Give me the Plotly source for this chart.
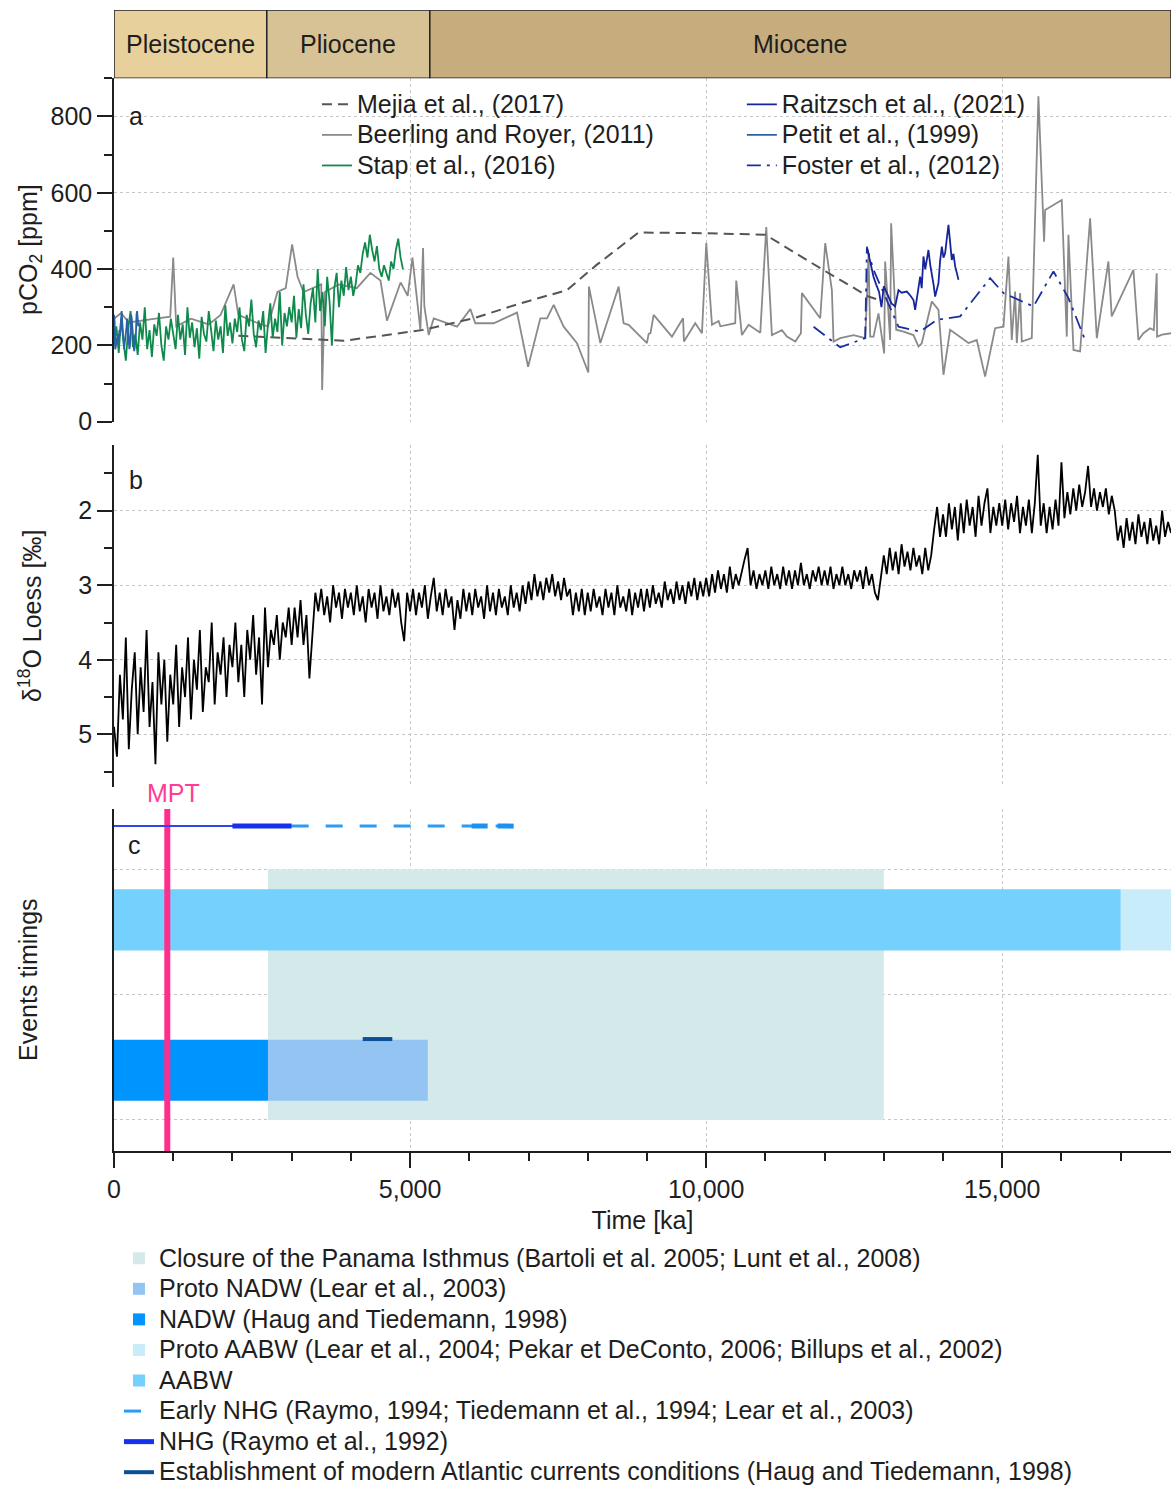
import plotly.graph_objects as go

# ---------------- data ----------------
EPOCH_NAMES = ["Pleistocene", "Pliocene", "Miocene"]
EPOCH_START = [0, 2580, 5333]
EPOCH_END = [2580, 5333, 17850]

# Petit et al. (1999) - Vostok CO2, regular 10 ka sampling
PETIT_T0, PETIT_DT = 0, 10
PETIT_CO2 = [280, 265, 190, 195, 210, 220, 205, 230, 210, 240,
             225, 245, 270, 290, 260, 230, 195, 190, 205, 215,
             230, 245, 270, 250, 230, 210, 190, 200, 245, 280,
             270, 240, 215, 200, 185, 195, 210, 230, 280, 290,
             270, 250]

# Stap et al. (2016), regular 40 ka sampling
STAP_T0, STAP_DT = 0, 40
STAP_CO2 = [200, 250, 180, 270, 210, 160, 245, 290, 195, 230, 175, 260, 215, 300, 190, 240, 170, 255, 225, 285, 200, 160, 250, 215, 270,
            230, 190, 280, 215, 255, 175, 300, 220, 260, 195, 245, 165, 275, 230, 210, 290, 240, 185, 265, 215, 250, 180, 305, 225, 260,
            205, 270, 235, 300, 215, 185, 280, 250, 320, 230, 195, 265, 240, 290, 180, 255, 310, 220, 270, 235, 340, 200, 285, 250, 300,
            260, 330, 220, 295, 245, 360, 280, 230, 310, 350, 260, 400, 290, 340, 250, 380, 315, 200, 350, 390, 300, 370, 330, 405, 345,
            380, 330, 360, 410, 390, 440, 470, 430, 490, 450, 420, 460, 400, 380, 410, 390, 370, 420, 400, 450, 480, 430, 400]

# Beerling and Royer (2011)
BR_AGE = [0, 120, 250, 450, 700, 950, 1000, 1050, 1300, 1600,
          1800, 2020, 2100, 2400, 2600, 2760, 2900, 3008, 3100, 3200,
          3500, 3515, 3560, 3800, 4100, 4330, 4500, 4610, 4840, 4960,
          5040, 5174, 5219, 5241, 5315, 5399, 5793, 6018, 6102, 6412,
          6806, 6993, 7200, 7312, 7425, 7594, 7819, 8010, 8020, 8213,
          8522, 8606, 8691, 9000, 9028, 9060, 9113, 9422, 9610, 9625,
          9816, 9929, 10002, 10098, 10210, 10240, 10491, 10508, 10604, 10717,
          10914, 11015, 11110, 11279, 11364, 11505, 11600, 11617, 11926, 12011,
          12123, 12151, 12264, 12489, 12686, 12714, 12742, 12770, 12826, 12910,
          13006, 13023, 13107, 13124, 13209, 13333, 13501, 13586, 13640, 13811,
          13923, 14008, 14120, 14430, 14570, 14711, 14880, 15021, 15105, 15161,
          15217, 15246, 15302, 15330, 15499, 15611, 15707, 15724, 16005, 16090,
          16118, 16203, 16315, 16484, 16597, 16793, 16849, 17215, 17300, 17384,
          17496, 17560, 17609, 17615, 17700, 17862]
BR_CO2 = [270, 285, 260, 265, 270, 275, 430, 250, 270, 255,
          280, 360, 280, 260, 250, 340, 350, 465, 380, 340,
          360, 83, 340, 360, 350, 390, 370, 265, 365, 330,
          430, 240, 455, 302, 227, 271, 249, 295, 258, 258,
          286, 144, 271, 271, 306, 249, 206, 129, 354, 206,
          354, 258, 254, 206, 230, 232, 280, 223, 271, 210,
          258, 232, 468, 254, 264, 250, 258, 370, 227, 254,
          233, 510, 227, 240, 223, 210, 232, 337, 271, 468,
          345, 210, 219, 227, 219, 319, 442, 223, 223, 284,
          179, 420, 214, 520, 241, 236, 227, 197, 205, 315,
          293, 123, 241, 206, 214, 118, 245, 249, 433, 214,
          341, 206, 337, 210, 219, 853, 472, 555, 581, 223,
          490, 188, 184, 533, 219, 420, 276, 398, 214, 232,
          245, 240, 389, 223, 228, 232]

# Mejia et al. (2017)
MEJIA_AGE = [2100, 2900, 3880, 4500, 5200, 6070, 6860, 7650, 8150, 8860, 10010, 11000, 11930, 12740, 12900]
MEJIA_CO2 = [225, 219, 212, 225, 240, 271, 310, 345, 411, 496, 494, 490, 402, 328, 320]

# Raitzsch et al. (2021)
RAITZSCH_AGE = [12714, 12740, 12770, 12800, 12826, 12870, 12920, 12960, 13000, 13079,
                13130, 13192, 13248, 13300, 13389, 13450, 13501, 13529, 13560, 13590,
                13614, 13640, 13670, 13700, 13730, 13754, 13785, 13811, 13840, 13867,
                13895, 13923, 13950, 13980, 14008, 14036, 14064, 14092, 14120, 14148,
                14176, 14205, 14233, 14261]
RAITZSCH_CO2 = [459, 440, 424, 400, 380, 360, 340, 300, 355, 328,
                310, 302, 345, 338, 341, 330, 319, 293, 330, 360,
                380, 350, 433, 400, 430, 450, 410, 389, 360, 328,
                345, 363, 420, 459, 430, 442, 480, 516, 470, 424,
                440, 407, 390, 372]

# Foster et al. (2012)
FOSTER_AGE = [11814, 12264, 12686, 12714, 12826, 13051, 13248, 13614, 13895, 14289, 14795, 15021, 15527, 15865, 16118, 16399]
FOSTER_CO2 = [249, 195, 219, 455, 398, 319, 249, 236, 267, 276, 376, 337, 302, 394, 324, 214]

# delta18O loess, regular 50 ka sampling
LOESS_T0, LOESS_DT = 0, 50
LOESS_D18O = [
    4.9, 5.3, 4.2, 4.8, 3.7, 5.2, 4.4, 3.9, 5.0, 4.1, 4.7, 3.6, 4.9, 4.3, 5.4, 3.9, 4.6, 4.0, 5.1, 4.2,
    4.6, 3.8, 4.9, 4.1, 4.5, 3.7, 4.8, 4.0, 4.4, 3.6, 4.7, 4.1, 4.3, 3.5, 4.6, 3.9, 4.2, 3.7, 4.5, 3.8,
    4.1, 3.5, 4.3, 3.8, 4.5, 3.6, 4.0, 3.4, 4.2, 3.7, 4.6, 3.3, 4.1, 3.6, 3.8, 3.4, 4.0, 3.5, 3.7, 3.3,
    3.8, 3.3, 3.7, 3.2, 3.8, 3.4, 4.25, 3.6, 3.1, 3.35, 3.05, 3.4, 3.15, 3.5, 3.0, 3.3, 3.1, 3.45, 3.05, 3.3,
    3.1, 3.4, 3.0, 3.35, 3.15, 3.5, 3.05, 3.3, 3.1, 3.45, 3.0, 3.35, 3.15, 3.4, 3.05, 3.3, 3.1, 3.5, 3.75, 3.1,
    3.35, 3.05, 3.4, 3.1, 3.3, 3.0, 3.45, 3.15, 2.9, 3.35, 3.1, 3.4, 3.05, 3.3, 3.15, 3.6, 3.2, 3.45, 3.05, 3.35,
    3.1, 3.4, 3.05, 3.3, 3.15, 3.45, 3.0, 3.35, 3.1, 3.4, 3.05, 3.3, 3.15, 3.4, 3.0, 3.3, 3.1, 3.35, 3.0, 3.25,
    2.95, 3.2, 2.85, 3.15, 2.95, 3.2, 2.9, 3.1, 2.85, 3.15, 2.95, 3.2, 2.9, 3.15, 3.05, 3.4, 3.1, 3.35, 3.05, 3.4,
    3.1, 3.35, 3.05, 3.3, 3.15, 3.4, 3.05, 3.3, 3.1, 3.4, 3.0, 3.3, 3.15, 3.35, 3.05, 3.4, 3.1, 3.3, 3.05, 3.35,
    3.05, 3.3, 3.0, 3.25, 3.1, 3.3, 2.95, 3.2, 3.05, 3.25, 2.95, 3.2, 3.0, 3.25, 2.95, 3.15, 2.9, 3.2, 2.95, 3.15,
    2.9, 3.15, 2.85, 3.1, 2.8, 3.05, 2.85, 3.1, 2.75, 3.05, 2.85, 3.0, 2.8, 2.65, 2.5, 3.0, 2.8, 3.05, 2.85, 3.0,
    2.8, 3.05, 2.75, 3.0, 2.85, 3.05, 2.75, 3.0, 2.8, 3.05, 2.8, 3.0, 2.7, 3.0, 2.85, 3.05, 2.8, 2.95, 2.75, 3.0,
    2.8, 3.0, 2.75, 3.05, 2.85, 3.0, 2.75, 3.0, 2.85, 3.05, 2.8, 2.95, 2.8, 3.05, 2.75, 3.0, 2.85, 3.1, 3.2, 2.9,
    2.6, 2.85, 2.5, 2.8, 2.55, 2.85, 2.45, 2.75, 2.55, 2.8, 2.5, 2.75, 2.6, 2.85, 2.5, 2.8, 2.6, 2.25, 1.95, 2.35,
    2.05, 2.35, 1.9, 2.25, 1.95, 2.4, 1.9, 2.3, 1.85, 2.2, 1.95, 2.35, 1.8, 2.2, 1.9, 1.7, 2.3, 1.95, 2.2, 1.9,
    2.2, 1.85, 2.25, 1.9, 2.15, 1.8, 2.3, 1.95, 2.2, 1.85, 2.3, 1.9, 1.25, 2.2, 1.9, 2.3, 1.95, 2.25, 1.85, 2.2,
    1.35, 2.1, 1.75, 2.05, 1.7, 2.0, 1.65, 1.95, 1.75, 1.4, 1.95, 1.7, 2.0, 1.75, 1.95, 1.7, 2.05, 1.8, 2.0, 2.4,
    2.2, 2.5, 2.1, 2.4, 2.15, 2.45, 2.05, 2.35, 2.15, 2.45, 2.1, 2.4, 2.2, 2.45, 2.0, 2.35, 2.15, 2.3]

# Panel c event timings (start ka, end ka)
PANAMA = (2600, 13000)
PROTO_NADW = (2600, 5300)
NADW = (0, 2600)
PROTO_AABW = (17000, 23000)
AABW = (0, 17000)
EARLY_NHG = (3000, 7000)
EARLY_NHG_STRONG = (6040, 6780)
NHG_TRACE = (0, 3000)
NHG = (2000, 3000)
ATLANTIC_MODERN = (4200, 4700)
MPT_AGE = 900

# ---------------- style / layout constants ----------------
FONT = "Liberation Sans, Arial, sans-serif"
TXT = "#1e1e1e"
BIG = 25
X_RANGE = [0, 17850]
EPOCH_COLORS = ["#e8d09c", "#d7c295", "#c7ad7e"]

# panel c rows (y positions in panel-c units)
ROW_NHG = 3.344
ROW_AABW = 2.596
ROW_PANAMA = 2.0
ROW_NADW = 1.396
ROW_ATL = 1.645
BAR_H = 0.488
PANAMA_H = 2.0
YC_RANGE = [0.752, 3.48]


def L(s):
    return f'<span style="font-size:{BIG}px">{s}</span>'


def reg(t0, dt, vals):
    return [t0 + i * dt for i in range(len(vals))]


fig = go.Figure()

# ---- epoch band ----
fig.add_trace(go.Bar(
    orientation="h", y=[0.5] * 3, base=EPOCH_START,
    x=[e - s for s, e in zip(EPOCH_START, EPOCH_END)], width=1,
    marker=dict(color=EPOCH_COLORS, line=dict(color="#222", width=1.5)),
    xaxis="x4", yaxis="y4", showlegend=False, hoverinfo="skip"))

# ---- panel a ----
fig.add_trace(go.Scatter(x=BR_AGE, y=BR_CO2, mode="lines", name=L("Beerling and Royer, (2011)"),
                         line=dict(color="#8a8a8a", width=1.8), legend="legend", legendrank=2,
                         xaxis="x", yaxis="y"))
fig.add_trace(go.Scatter(x=MEJIA_AGE, y=MEJIA_CO2, mode="lines", name=L("Mejia et al., (2017)"),
                         line=dict(color="#555555", width=2, dash="10px,6px"), legend="legend", legendrank=1,
                         xaxis="x", yaxis="y"))
fig.add_trace(go.Scatter(x=reg(STAP_T0, STAP_DT, STAP_CO2), y=STAP_CO2, mode="lines", name=L("Stap et al., (2016)"),
                         line=dict(color="#0f8a4c", width=1.8), legend="legend", legendrank=3,
                         xaxis="x", yaxis="y"))
fig.add_trace(go.Scatter(x=reg(PETIT_T0, PETIT_DT, PETIT_CO2), y=PETIT_CO2, mode="lines", name=L("Petit et al., (1999)"),
                         line=dict(color="#2a62a6", width=1.8), legend="legend2", legendrank=2,
                         xaxis="x", yaxis="y"))
fig.add_trace(go.Scatter(x=FOSTER_AGE, y=FOSTER_CO2, mode="lines", name=L("Foster et al., (2012)"),
                         line=dict(color="#1a2f9e", width=1.8, dash="14px,6px,3px,6px"), legend="legend2", legendrank=3,
                         xaxis="x", yaxis="y"))
fig.add_trace(go.Scatter(x=RAITZSCH_AGE, y=RAITZSCH_CO2, mode="lines", name=L("Raitzsch et al., (2021)"),
                         line=dict(color="#17259a", width=1.8), legend="legend2", legendrank=1,
                         xaxis="x", yaxis="y"))

# ---- panel b ----
fig.add_trace(go.Scatter(x=reg(LOESS_T0, LOESS_DT, LOESS_D18O), y=LOESS_D18O, mode="lines",
                         line=dict(color="#000000", width=1.8), showlegend=False,
                         xaxis="x2", yaxis="y2"))

# ---- panel c ----
def hbar(rng, row, h, color, name, rank, show=True):
    return go.Bar(orientation="h", y=[row], base=[rng[0]], x=[rng[1] - rng[0]], width=[h],
                  marker=dict(color=color, line=dict(width=0)), name=L(name), legend="legend3",
                  legendrank=rank, showlegend=show, xaxis="x3", yaxis="y3", hoverinfo="skip")


fig.add_trace(hbar(PANAMA, ROW_PANAMA, PANAMA_H, "#d4e9ea",
                   "Closure of the Panama Isthmus (Bartoli et al. 2005; Lunt et al., 2008)", 1))
fig.add_trace(hbar(PROTO_NADW, ROW_NADW, BAR_H, "#94c5f2", "Proto NADW (Lear et al., 2003)", 2))
fig.add_trace(hbar(NADW, ROW_NADW, BAR_H, "#0094fe", "NADW (Haug and Tiedemann, 1998)", 3))
fig.add_trace(go.Scatter(x=list(ATLANTIC_MODERN), y=[ROW_ATL, ROW_ATL], mode="lines",
                         line=dict(color="#0b4f97", width=4),
                         name=L("Establishment of modern Atlantic currents conditions (Haug and Tiedemann, 1998)"),
                         legend="legend3", legendrank=8, xaxis="x3", yaxis="y3"))
fig.add_trace(go.Scatter(x=[MPT_AGE, MPT_AGE], y=YC_RANGE, mode="lines",
                         line=dict(color="#ff2e8c", width=6), showlegend=False, xaxis="x3", yaxis="y3"))
fig.add_trace(hbar(PROTO_AABW, ROW_AABW, BAR_H, "#c9ecfb",
                   "Proto AABW (Lear et al., 2004; Pekar et DeConto, 2006; Billups et al., 2002)", 4))
fig.add_trace(hbar(AABW, ROW_AABW, BAR_H, "#74d0fc", "AABW", 5))
fig.add_trace(go.Scatter(x=list(NHG_TRACE), y=[ROW_NHG, ROW_NHG], mode="lines",
                         line=dict(color="#3043f0", width=2), showlegend=False, xaxis="x3", yaxis="y3"))
fig.add_trace(go.Scatter(x=list(NHG), y=[ROW_NHG, ROW_NHG], mode="lines",
                         line=dict(color="#1432ee", width=5), name=L("NHG (Raymo et al., 1992)"),
                         legend="legend3", legendrank=7, xaxis="x3", yaxis="y3"))
fig.add_trace(go.Scatter(x=list(EARLY_NHG), y=[ROW_NHG, ROW_NHG], mode="lines",
                         line=dict(color="#2a9cf4", width=3, dash="17px,17px"),
                         name=L("Early NHG (Raymo, 1994; Tiedemann et al., 1994; Lear et al., 2003)"),
                         legend="legend3", legendrank=6, xaxis="x3", yaxis="y3"))
fig.add_trace(go.Scatter(x=list(EARLY_NHG_STRONG), y=[ROW_NHG, ROW_NHG], mode="lines",
                         line=dict(color="#1b92f2", width=5, dash="16px,10px"), showlegend=False,
                         xaxis="x3", yaxis="y3"))

# ---------------- layout ----------------
GRID = dict(showgrid=True, gridcolor="#c6c6c6", griddash="dot", gridwidth=1)
TICKF = dict(size=BIG, family=FONT, color=TXT)
xgrid = dict(tick0=0, dtick=5000, zeroline=False, **GRID)
yline = dict(showline=True, linecolor=TXT, linewidth=1.5, zeroline=False)

LEG = dict(bgcolor="rgba(0,0,0,0)", font=dict(size=21.2, family=FONT, color=TXT),
           tracegroupgap=0, xanchor="left", yanchor="top", traceorder="normal", itemclick=False)

fig.update_layout(
    width=1171, height=1486,
    margin=dict(l=114, r=0, t=10, b=335, autoexpand=False),
    paper_bgcolor="white", plot_bgcolor="white",
    font=dict(family=FONT, color=TXT, size=BIG),
    barmode="overlay", showlegend=True,
    xaxis=dict(anchor="y", matches="x3", showticklabels=False, ticks="", **xgrid),
    xaxis2=dict(anchor="y2", matches="x3", showticklabels=False, ticks="", **xgrid),
    xaxis3=dict(anchor="y3", range=X_RANGE, showticklabels=True, tickformat=",d",
                ticks="outside", ticklen=15, tickwidth=1.5, tickcolor=TXT, tickfont=TICKF,
                minor=dict(ticks="outside", dtick=1000, ticklen=8, tickwidth=1.5, tickcolor=TXT),
                showline=True, linecolor=TXT, linewidth=1.5,
                title=dict(text="Time [ka]", font=TICKF, standoff=10), **xgrid),
    xaxis4=dict(anchor="y4", matches="x3", visible=False),
    yaxis=dict(anchor="x", domain=[0.6392, 0.9401], range=[0, 900], tick0=0, dtick=200,
               ticks="outside", ticklen=15, tickwidth=1.5, tickcolor=TXT, tickfont=TICKF,
               minor=dict(ticks="outside", dtick=100, ticklen=8, tickwidth=1.5, tickcolor=TXT),
               **yline, **GRID),
    yaxis2=dict(anchor="x2", domain=[0.3190, 0.6188], range=[5.707, 1.118], tick0=0, dtick=1,
                ticks="outside", ticklen=15, tickwidth=1.5, tickcolor=TXT, tickfont=TICKF,
                minor=dict(ticks="outside", dtick=0.5, ticklen=8, tickwidth=1.5, tickcolor=TXT),
                **yline, **GRID),
    yaxis3=dict(anchor="x3", domain=[0, 0.2997], range=YC_RANGE, tickvals=[1, 2, 3],
                showticklabels=False, ticks="", **yline, **GRID),
    yaxis4=dict(anchor="x4", domain=[0.9401, 1.0], range=[0, 1], visible=False),
    legend=dict(x=0.192, y=0.9351, **LEG),
    legend2=dict(x=0.594, y=0.9351, **LEG),
    legend3=dict(x=0.0047, xref="paper", y=0.1669, yref="container", **LEG),
)

ann = []
for name, s, e in zip(EPOCH_NAMES, EPOCH_START, EPOCH_END):
    ann.append(dict(text=name, x=(s + e) / 2, y=0.5, xref="x4", yref="y4", showarrow=False,
                    font=dict(size=BIG, color=TXT)))
ytitle = dict(x=0, xref="paper", yref="paper", xanchor="center", yanchor="middle",
              textangle=-90, showarrow=False, font=dict(size=BIG, color=TXT))
letter = dict(xref="paper", yref="paper", xanchor="center", yanchor="middle", showarrow=False,
              font=dict(size=BIG, color=TXT))
ann += [
    dict(text="pCO<sub>2</sub> [ppm]", xshift=-84, y=0.7897, **ytitle),
    dict(text="δ<sup>18</sup>O Loess [‰]", xshift=-84, y=0.4689, **ytitle),
    dict(text="Events timings", xshift=-86, y=0.1499, **ytitle),
    dict(text="a", x=0.0208, y=0.9075, **letter),
    dict(text="b", x=0.0208, y=0.5877, **letter),
    dict(text="c", x=0.019, y=0.2682, **letter),
    dict(text="MPT", x=MPT_AGE, xshift=6, y=0.3138, xref="x3", yref="paper", xanchor="center",
         yanchor="middle", showarrow=False, font=dict(size=BIG, color="#ff3d95")),
]
fig.update_layout(annotations=ann)

fig.write_html("out.html")
